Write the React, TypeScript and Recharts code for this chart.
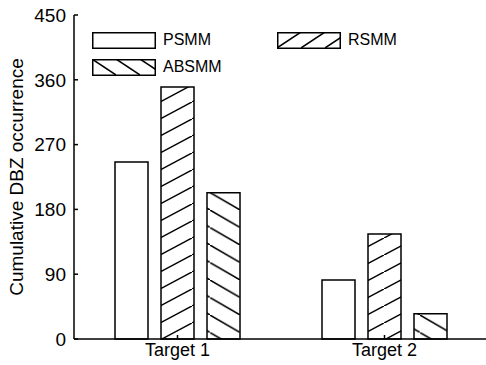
import { BarChart, Bar, XAxis, YAxis, Legend } from 'recharts';

const categories = ['Target 1', 'Target 2'];
const psmm = [246, 82];
const rsmm = [350, 146];
const absmm = [203, 35];
const yTicks = [0, 90, 180, 270, 360, 450];

const data = categories.map((name, i) => ({
  name,
  psmm: psmm[i],
  rsmm: rsmm[i],
  absmm: absmm[i],
}));

const FONT = '"Liberation Sans", Arial, sans-serif';

const legendItems = [
  { label: 'PSMM', fill: '#fff', left: 0, top: 0 },
  { label: 'RSMM', fill: 'url(#legRsmm)', left: 185, top: 0 },
  { label: 'ABSMM', fill: 'url(#legAbsmm)', left: 0, top: 27 },
];

function ChartLegend() {
  return (
    <div style={{ position: 'relative', width: 320, height: 46, fontFamily: FONT }}>
      <svg width={0} height={0} style={{ position: 'absolute' }}>
        <defs>
          <pattern id="legRsmm" patternUnits="userSpaceOnUse" width={24} height={16}>
            <line x1={0} y1={16} x2={24} y2={0} stroke="#000" strokeWidth={1.5} />
          </pattern>
          <pattern id="legAbsmm" patternUnits="userSpaceOnUse" width={24} height={16}>
            <line x1={0} y1={0} x2={24} y2={16} stroke="#000" strokeWidth={1.5} />
          </pattern>
        </defs>
      </svg>
      {legendItems.map((it) => (
        <div
          key={it.label}
          style={{ position: 'absolute', left: it.left, top: it.top, display: 'flex', alignItems: 'center' }}
        >
          <svg width={64} height={17}>
            <rect x={0.75} y={0.75} width={62.5} height={15.5} fill={it.fill} stroke="#000" strokeWidth={1.5} />
          </svg>
          <span style={{ fontSize: 16, marginLeft: 7, color: '#000' }}>{it.label}</span>
        </div>
      ))}
    </div>
  );
}

export default function App() {
  return (
    <div style={{ position: 'absolute', left: 0, top: 0, width: 486, height: 365, overflow: 'hidden', background: '#fff' }}>
      <BarChart
        width={490}
        height={365}
        data={data}
        margin={{ top: 15, right: 0, left: 0, bottom: 0 }}
        barSize={33}
        barGap={13}
      >
        <defs>
          <pattern id="hatchRsmm" patternUnits="userSpaceOnUse" width={32} height={17}>
            <line x1={0} y1={17} x2={32} y2={0} stroke="#000" strokeWidth={1.5} />
          </pattern>
          <pattern id="hatchAbsmm" patternUnits="userSpaceOnUse" width={30} height={17.5}>
            <line x1={0} y1={0} x2={30} y2={17.5} stroke="#000" strokeWidth={1.5} />
          </pattern>
        </defs>
        <XAxis
          dataKey="name"
          height={26}
          axisLine={{ stroke: '#000', strokeWidth: 1.5 }}
          tickLine={{ stroke: '#000', strokeWidth: 1.5 }}
          tickSize={-4}
          tickMargin={8}
          tick={{ fill: '#000', fontSize: 18, fontFamily: FONT }}
        />
        <XAxis
          xAxisId="top"
          dataKey="name"
          orientation="top"
          height={0}
          axisLine={{ stroke: '#000', strokeWidth: 1.5 }}
          tickLine={{ stroke: '#000', strokeWidth: 1.5 }}
          tickSize={-4}
          tickFormatter={() => ''}
        />
        <YAxis
          domain={[0, 450]}
          ticks={yTicks}
          width={74}
          axisLine={{ stroke: '#000', strokeWidth: 1.5 }}
          tickLine={{ stroke: '#000', strokeWidth: 1.5 }}
          tickSize={-4}
          tickMargin={12}
          tick={{ fill: '#000', fontSize: 19, fontFamily: FONT }}
          label={{
            value: 'Cumulative DBZ occurrence',
            angle: -90,
            position: 'insideLeft',
            offset: 16,
            style: { textAnchor: 'middle', fill: '#000', fontSize: 19, fontFamily: FONT },
          }}
        />
        <YAxis
          yAxisId="right"
          orientation="right"
          domain={[0, 450]}
          ticks={yTicks}
          width={2}
          axisLine={{ stroke: '#000', strokeWidth: 1.5 }}
          tickLine={{ stroke: '#000', strokeWidth: 1.5 }}
          tickSize={-4}
          tickFormatter={() => ''}
        />
        <Legend
          layout="vertical"
          verticalAlign="middle"
          align="center"
          wrapperStyle={{ top: 31, left: 92, width: 320 }}
          content={() => <ChartLegend />}
        />
        <Bar dataKey="psmm" fill="#fff" stroke="#000" strokeWidth={1.5} isAnimationActive={false} />
        <Bar dataKey="rsmm" fill="url(#hatchRsmm)" stroke="#000" strokeWidth={1.5} isAnimationActive={false} />
        <Bar dataKey="absmm" fill="url(#hatchAbsmm)" stroke="#000" strokeWidth={1.5} isAnimationActive={false} />
      </BarChart>
    </div>
  );
}
